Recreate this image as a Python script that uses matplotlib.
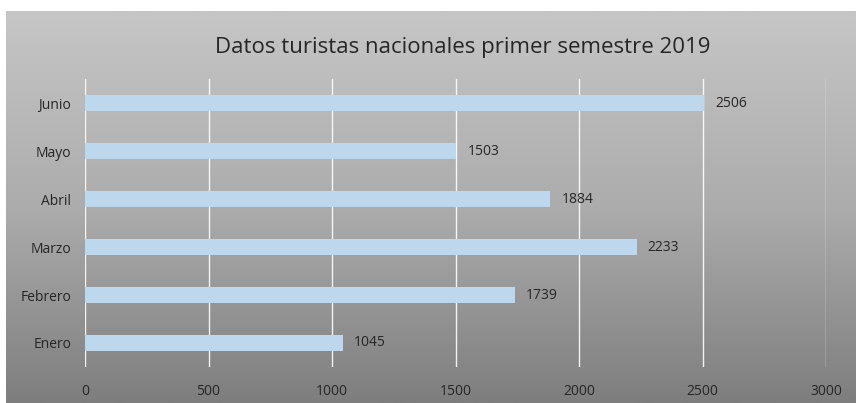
"""Datos turistas nacionales primer semestre 2019 - horizontal bar chart."""

import matplotlib

matplotlib.use("Agg")
import matplotlib.pyplot as plt
import numpy as np
from matplotlib.colors import LinearSegmentedColormap

months = ["Enero", "Febrero", "Marzo", "Abril", "Mayo", "Junio"]
tourists = [1045, 1739, 2233, 1884, 1503, 2506]
x_ticks = [0, 500, 1000, 1500, 2000, 2500, 3000]

TITLE = "Datos turistas nacionales primer semestre 2019"
BAR_COLOR = "#bdd7ee"
TEXT_COLOR = "#262626"

W, H = 856, 403
plt.rcParams["font.family"] = ["Open Sans", "DejaVu Sans"]

fig = plt.figure(figsize=(W / 100, H / 100), dpi=100)
fig.patch.set_facecolor("white")

# Gradient panel behind everything
bg = fig.add_axes([6 / W, 0, 850 / W, 392 / H])
bg.set_axis_off()
cmap = LinearSegmentedColormap.from_list("bg", ["#c6c6c6", "#acacac", "#7e7e7e"])
grad = np.linspace(0, 1, 256).reshape(-1, 1)
bg.imshow(grad, aspect="auto", cmap=cmap, extent=(0, 1, 0, 1), origin="upper")
bg.set_xlim(0, 1)
bg.set_ylim(0, 1)

# Plot area
left, right = 85, 826
top, bottom = 79, 367
ax = fig.add_axes([left / W, 1 - bottom / H, (right - left) / W, (bottom - top) / H])
ax.set_facecolor("none")

y = np.arange(len(months))
ax.barh(y, tourists, height=0.33, color=BAR_COLOR, zorder=2)

for yi, v in zip(y, tourists):
    ax.annotate(
        str(v),
        xy=(v, yi),
        xytext=(8, 0),
        textcoords="offset points",
        va="center",
        ha="left",
        fontsize=10,
        color=TEXT_COLOR,
    )

ax.set_xlim(0, 3000)
ax.set_ylim(-0.5, len(months) - 0.5)
ax.set_xticks(x_ticks)
ax.set_yticks(y)
ax.set_yticklabels(months)
ax.xaxis.grid(True, color="white", linewidth=1.0, alpha=0.9, zorder=1)
ax.set_axisbelow(True)
for s in ax.spines.values():
    s.set_visible(False)
ax.tick_params(axis="both", length=0, labelsize=10, colors=TEXT_COLOR)
ax.tick_params(axis="x", pad=12)
ax.tick_params(axis="y", pad=10)

fig.text(463 / W, 1 - 47 / H, TITLE, ha="center", va="center", fontsize=16, color=TEXT_COLOR)

fig.savefig("out.png", dpi=100)
